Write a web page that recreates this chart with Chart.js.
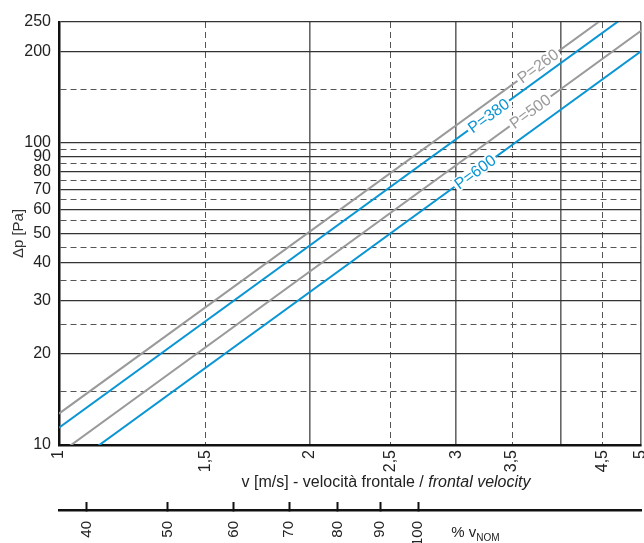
<!DOCTYPE html>
<html>
<head>
<meta charset="utf-8">
<script src="https://cdn.jsdelivr.net/npm/chart.js@4.4.0/dist/chart.umd.min.js"></script>
<style>
  html, body { margin: 0; padding: 0; background: #fff; }
  #wrap { width: 644px; height: 543px; }
</style>
</head>
<body>
<div id="wrap"><canvas id="chart" width="644" height="543"></canvas></div>
<script>
// dati
const vPoints = [1, 5];                 // v [m/s]
const p260 = [12.7, 316];               // Δp [Pa]
const p380 = [11.4, 285];
const p500 = [9.35, 234];
const p600 = [8.0, 200];
const seriesNames = ["P=260", "P=380", "P=500", "P=600"];
const labelAtV = [3.76, 3.28, 3.68, 3.16]; // dove stanno le etichette sulle rette

const vTicks = [1, 1.5, 2, 2.5, 3, 3.5, 4, 4.5, 5];
const vLabels = ["1", "1,5", "2", "2,5", "3", "3,5", "", "4,5", "5"];
const pTicks = [10, 15, 20, 25, 30, 35, 40, 45, 50, 55, 60, 65, 70, 75, 80, 85, 90, 95, 100, 150, 200, 250];
const pLabels = [10, 20, 30, 40, 50, 60, 70, 80, 90, 100, 200, 250];
const pctTicks = [40, 50, 60, 70, 80, 90, 100];
const vNom = 2.7; // velocità nominale (100 %)

const FONT = '"Liberation Sans", Arial, sans-serif';
const BLUE = "#0a95d4";
const GRAY = "#9a9a9a";

function isDashedV(v) { return Math.abs(v - Math.round(v)) > 0.01; }
function isDashedP(v) { return !pLabels.includes(v); }

// etichette "P=..." ruotate lungo le rette
const lineLabels = {
  id: "lineLabels",
  afterDatasetsDraw(chart) {
    const { ctx } = chart;
    const xs = chart.scales.x, ys = chart.scales.y;
    chart.data.datasets.forEach((ds, i) => {
      const a = ds.data[0], b = ds.data[ds.data.length - 1];
      const v = labelAtV[i];
      const t = Math.log(v / a.x) / Math.log(b.x / a.x);
      const dp = a.y * Math.pow(b.y / a.y, t);
      const px = xs.getPixelForValue(v), py = ys.getPixelForValue(dp);
      const ang = Math.atan2(ys.getPixelForValue(b.y) - ys.getPixelForValue(a.y),
                             xs.getPixelForValue(b.x) - xs.getPixelForValue(a.x));
      ctx.save();
      ctx.translate(px, py);
      ctx.rotate(ang);
      ctx.font = "16px " + FONT;
      const w = ctx.measureText(ds.label).width;
      ctx.fillStyle = "#fff";
      ctx.fillRect(-w / 2 - 2, -7, w + 4, 14);
      ctx.fillStyle = ds.borderColor;
      ctx.textAlign = "center";
      ctx.textBaseline = "middle";
      ctx.fillText(ds.label, 0, 1);
      ctx.restore();
    });
  }
};

// titolo asse x (parte in corsivo) e "% vNOM"
const extraText = {
  id: "extraText",
  afterDraw(chart) {
    const { ctx } = chart;
    const xs = chart.scales.x, ps = chart.scales.pct;
    ctx.save();
    ctx.fillStyle = "#222";
    ctx.textBaseline = "alphabetic";
    ctx.textAlign = "left";
    const partA = "v [m/s] - velocità frontale / ";
    const partB = "frontal velocity";
    ctx.font = "16px " + FONT;
    const wa = ctx.measureText(partA).width;
    ctx.font = "italic 16px " + FONT;
    const wb = ctx.measureText(partB).width;
    const cx = (xs.left + xs.right) / 2 + 36;
    const x0 = cx - (wa + wb) / 2;
    const by = xs.top + 42;
    ctx.font = "16px " + FONT;
    ctx.fillText(partA, x0, by);
    ctx.font = "italic 16px " + FONT;
    ctx.fillText(partB, x0 + wa, by);

    const px = ps.getPixelForValue(100) + 33;
    const py = ps.top + 27;
    ctx.font = "15px " + FONT;
    ctx.fillText("% v", px, py);
    const w1 = ctx.measureText("% v").width;
    ctx.font = "10px " + FONT;
    ctx.fillText("NOM", px + w1, py + 4);
    ctx.restore();
  }
};

const ctx = document.getElementById("chart").getContext("2d");
const chart = new Chart(ctx, {
  type: "line",
  data: {
    datasets: [
      { label: seriesNames[0], data: vPoints.map((v, i) => ({ x: v, y: p260[i] })), borderColor: GRAY },
      { label: seriesNames[1], data: vPoints.map((v, i) => ({ x: v, y: p380[i] })), borderColor: BLUE },
      { label: seriesNames[2], data: vPoints.map((v, i) => ({ x: v, y: p500[i] })), borderColor: GRAY },
      { label: seriesNames[3], data: vPoints.map((v, i) => ({ x: v, y: p600[i] })), borderColor: BLUE },
    ].map(d => Object.assign(d, { borderWidth: 2, pointRadius: 0, tension: 0, fill: false }))
  },
  options: {
    responsive: false,
    animation: false,
    layout: { padding: { top: 22, right: 3, left: 0, bottom: 0 } },
    plugins: { legend: { display: false }, tooltip: { enabled: false } },
    scales: {
      x: {
        type: "logarithmic",
        position: "bottom",
        weight: 0,
        min: 1,
        max: 5,
        afterBuildTicks: s => { s.ticks = vTicks.map(v => ({ value: v })); },
        afterFit: s => { s.height = 65; s.paddingLeft = 0; s.paddingRight = 0; },
        ticks: {
          autoSkip: false, minRotation: 90, maxRotation: 90, padding: 5,
          font: { family: FONT, size: 16 }, color: "#222",
          callback: (val, i) => vLabels[i]
        },
        grid: {
          drawTicks: false,
          color: c => (c.tick && isDashedV(c.tick.value)) ? "#555" : "#666",
          lineWidth: c => (c.tick && isDashedV(c.tick.value)) ? 1 : 1.6
        },
        border: {
          color: "#111", width: 2.5,
          dash: c => (c.tick && isDashedV(c.tick.value)) ? [6, 4] : []
        }
      },
      pct: {
        type: "logarithmic",
        position: "bottom",
        weight: 1,
        min: 100 / vNom,
        max: 500 / vNom,
        afterBuildTicks: s => { s.ticks = pctTicks.map(v => ({ value: v })); },
        afterFit: s => { s.height = 33; s.paddingLeft = 0; s.paddingRight = 0; },
        ticks: {
          autoSkip: false, minRotation: 90, maxRotation: 90, padding: 19,
          font: { family: FONT, size: 15 }, color: "#222",
          callback: val => String(val)
        },
        grid: { drawOnChartArea: false, drawTicks: true, tickLength: -8, tickWidth: 2, tickColor: "#111" },
        border: { color: "#111", width: 2.5 }
      },
      y: {
        type: "logarithmic",
        min: 10,
        max: 250,
        afterBuildTicks: s => { s.ticks = pTicks.map(v => ({ value: v })); },
        afterFit: s => { s.width = 59; s.paddingTop = 0; s.paddingBottom = 0; },
        ticks: {
          autoSkip: false, padding: 8,
          font: { family: FONT, size: 16 }, color: "#222",
          callback: val => pLabels.includes(val) ? String(val) : ""
        },
        title: {
          display: true, text: "Δp [Pa]", color: "#333",
          font: { family: FONT, size: 15 }, padding: { top: 10, bottom: 0 }
        },
        grid: {
          drawTicks: false,
          color: c => (c.tick && isDashedP(c.tick.value)) ? "#555" : "#333",
          lineWidth: c => (c.tick && isDashedP(c.tick.value)) ? 1 : 1.2
        },
        border: {
          color: "#111", width: 2.5,
          dash: c => (c.tick && isDashedP(c.tick.value)) ? [6, 4] : []
        }
      }
    }
  },
  plugins: [lineLabels, extraText]
});
</script>
</body>
</html>
